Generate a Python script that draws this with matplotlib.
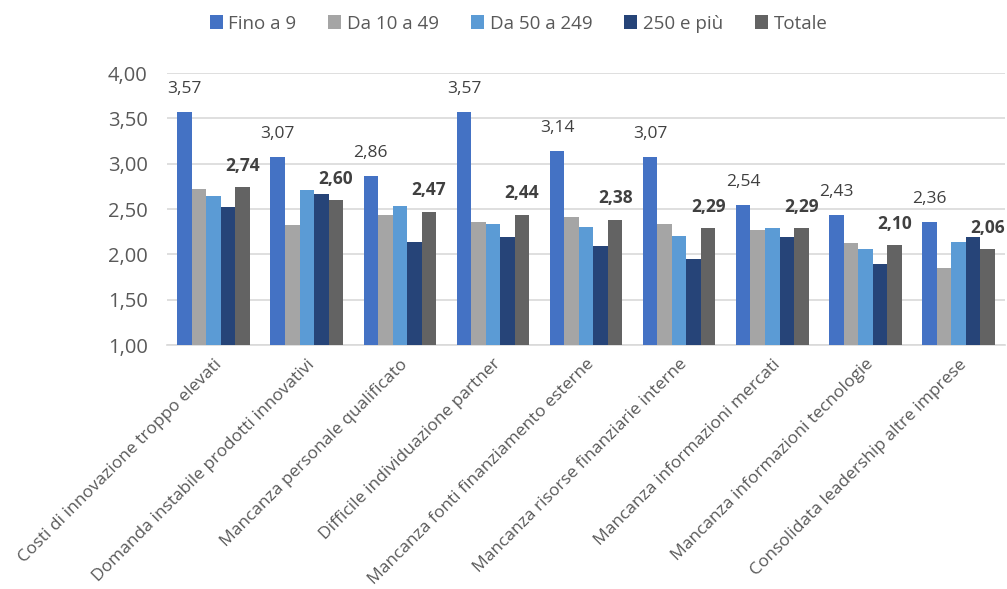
import matplotlib
matplotlib.use("Agg")
import matplotlib.pyplot as plt
import numpy as np
from matplotlib.ticker import FuncFormatter

categories = [
    "Costi di innovazione troppo elevati",
    "Domanda instabile prodotti innovativi",
    "Mancanza personale qualificato",
    "Difficile individuazione partner",
    "Mancanza fonti finanziamento esterne",
    "Mancanza risorse finanziarie interne",
    "Mancanza informazioni mercati",
    "Mancanza informazioni tecnologie",
    "Consolidata leadership altre imprese",
]
series_names = ["Fino a 9", "Da 10 a 49", "Da 50 a 249", "250 e più", "Totale"]
fino_a_9 = [3.57, 3.07, 2.86, 3.57, 3.14, 3.07, 2.54, 2.43, 2.36]
da_10_a_49 = [2.72, 2.32, 2.43, 2.36, 2.41, 2.34, 2.27, 2.13, 1.85]
da_50_a_249 = [2.64, 2.71, 2.53, 2.34, 2.30, 2.20, 2.29, 2.06, 2.14]
oltre_250 = [2.52, 2.67, 2.14, 2.19, 2.09, 1.95, 2.19, 1.90, 2.19]
totale = [2.74, 2.60, 2.47, 2.44, 2.38, 2.29, 2.29, 2.10, 2.06]
yticks = [1.0, 1.5, 2.0, 2.5, 3.0, 3.5, 4.0]

colors = ["#4472C4", "#A5A5A5", "#5B9BD5", "#264478", "#636363"]
data = [fino_a_9, da_10_a_49, da_50_a_249, oltre_250, totale]

plt.rcParams['font.family'] = ['Open Sans', 'DejaVu Sans']
fig = plt.figure(figsize=(10.07, 5.89), dpi=100)
ax = fig.add_axes([0.166, 0.414, 0.832, 0.462])

x = np.arange(len(categories))
w = 0.156
bars_all = []
for i, (vals, c, name) in enumerate(zip(data, colors, series_names)):
    pos = x + (i - 2) * w
    b = ax.bar(pos, np.array(vals) - 1.0, width=w, bottom=1.0, color=c,
               label=name, zorder=3)
    bars_all.append(b)

fmt = lambda v: f"{v:.2f}".replace(".", ",")
for j in range(len(categories)):
    ax.annotate(fmt(fino_a_9[j]), (x[j] - 2 * w, fino_a_9[j]),
                xytext=(0, 11), textcoords="offset points", ha="center",
                va="bottom", fontsize=12.5, color="#404040")
    ax.annotate(fmt(totale[j]), (x[j] + 2 * w, totale[j]),
                xytext=(0, 9), textcoords="offset points", ha="center",
                va="bottom", fontsize=12.5, color="#404040", fontweight="bold")

ax.set_ylim(1.0, 4.0)
ax.set_xlim(-0.5, len(categories) - 0.5)
ax.set_yticks(yticks)
ax.yaxis.set_major_formatter(FuncFormatter(lambda v, p: fmt(v)))
ax.grid(axis="y", color="#D9D9D9", linewidth=1.2, zorder=0)
for s in ["top", "right", "left"]:
    ax.spines[s].set_visible(False)
ax.spines["bottom"].set_color("#D9D9D9")
ax.spines["bottom"].set_linewidth(1.2)
ax.tick_params(axis="both", length=0, colors="#595959")
ax.tick_params(axis="y", pad=14, labelsize=14.5)
ax.set_xticks(x)
ax.set_xticklabels(categories, rotation=45, ha="right", rotation_mode="anchor",
                   fontsize=12.5, color="#595959")
ax.tick_params(axis="x", pad=8)

leg = fig.legend(handles=bars_all, labels=series_names, loc="center",
                 bbox_to_anchor=(0.515, 0.96), ncol=5, frameon=False,
                 fontsize=13.5, handlelength=0.7, handleheight=0.7,
                 handletextpad=0.3, columnspacing=1.7)
for t in leg.get_texts():
    t.set_color("#595959")

fig.savefig("out.png", dpi=100)
